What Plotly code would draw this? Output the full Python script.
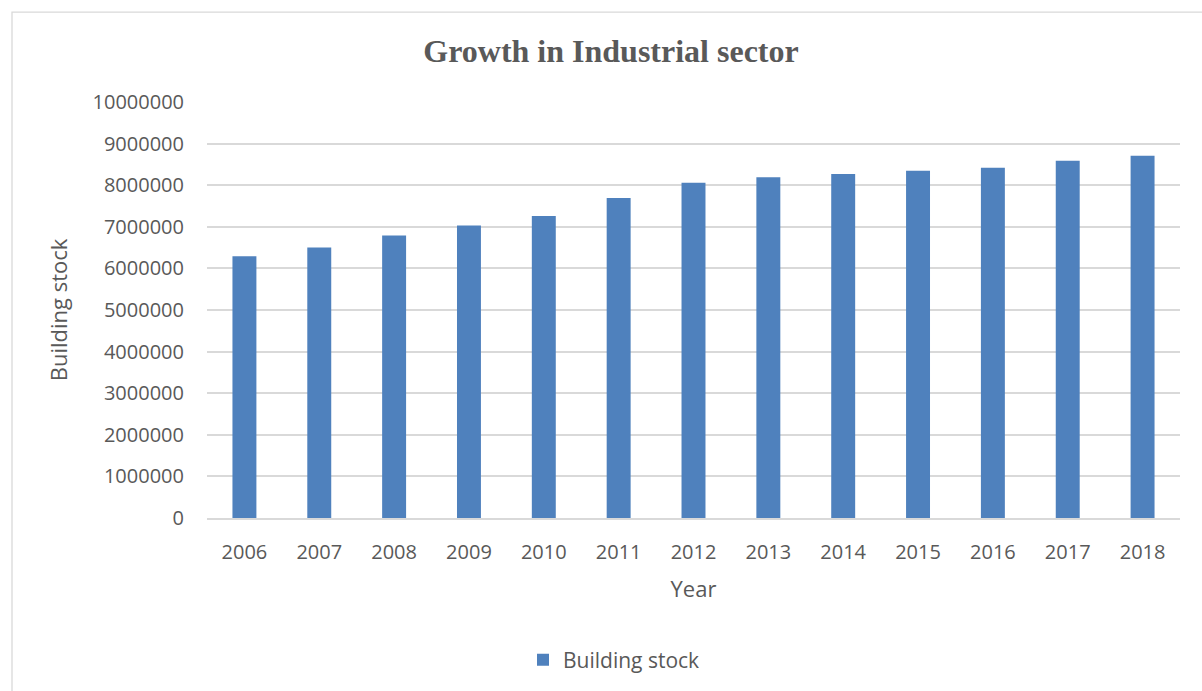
import plotly.graph_objects as go

years = ["2006", "2007", "2008", "2009", "2010", "2011", "2012",
         "2013", "2014", "2015", "2016", "2017", "2018"]
building_stock = [6290000, 6500000, 6790000, 7030000, 7260000, 7690000, 8060000,
                  8190000, 8270000, 8350000, 8420000, 8590000, 8710000]
y_ticks = [0, 1000000, 2000000, 3000000, 4000000, 5000000,
           6000000, 7000000, 8000000, 9000000, 10000000]

W, H = 1202, 691
L, R, T, B = 207, 22, 102, 172
pw, ph = W - L - R, H - T - B

text_color = "#595959"
grid_color = "#d9d9d9"
sans = "Open Sans"

fig = go.Figure()
fig.add_trace(go.Bar(
    x=years, y=building_stock, name="Building stock",
    marker=dict(color="#4f81bd", line=dict(width=0)),
))

# outer chart frame
fig.add_shape(type="rect", xref="paper", yref="paper",
              x0=(12 - L) / pw, x1=(W + 10 - L) / pw,
              y0=-(B + 10) / ph, y1=(H - B - 12) / ph,
              line=dict(color=grid_color, width=1.3), layer="below")

fig.update_layout(
    width=W, height=H,
    margin=dict(l=L, r=R, t=T, b=B),
    paper_bgcolor="white", plot_bgcolor="white",
    bargap=0.68,
    title=dict(text="<b>Growth in Industrial sector</b>", x=611 / W, xanchor="center",
               y=1 - 51 / H, yanchor="middle",
               font=dict(family="Liberation Serif", size=32, color=text_color)),
    font=dict(family=sans, size=20, color=text_color),
    showlegend=True,
    legend=dict(orientation="h", x=(614 - L) / pw, xanchor="center", y=-(660 - 519) / ph,
                yanchor="middle", font=dict(size=21, color=text_color)),
    xaxis=dict(
        title=dict(text="Year", standoff=18, font=dict(size=22)),
        showline=True, linecolor=grid_color, linewidth=1.5,
        ticks="", ticklabelstandoff=15, tickfont=dict(size=20),
    ),
    yaxis=dict(
        title=dict(text="Building stock", standoff=18, font=dict(size=22)),
        range=[0, 10000000], tickvals=y_ticks, tickformat="d",
        showgrid=True, gridcolor=grid_color, gridwidth=1.8,
        zeroline=False, showline=False, ticks="", ticklabelstandoff=22,
        tickfont=dict(size=20),
    ),
)

fig.write_html("out.html")
